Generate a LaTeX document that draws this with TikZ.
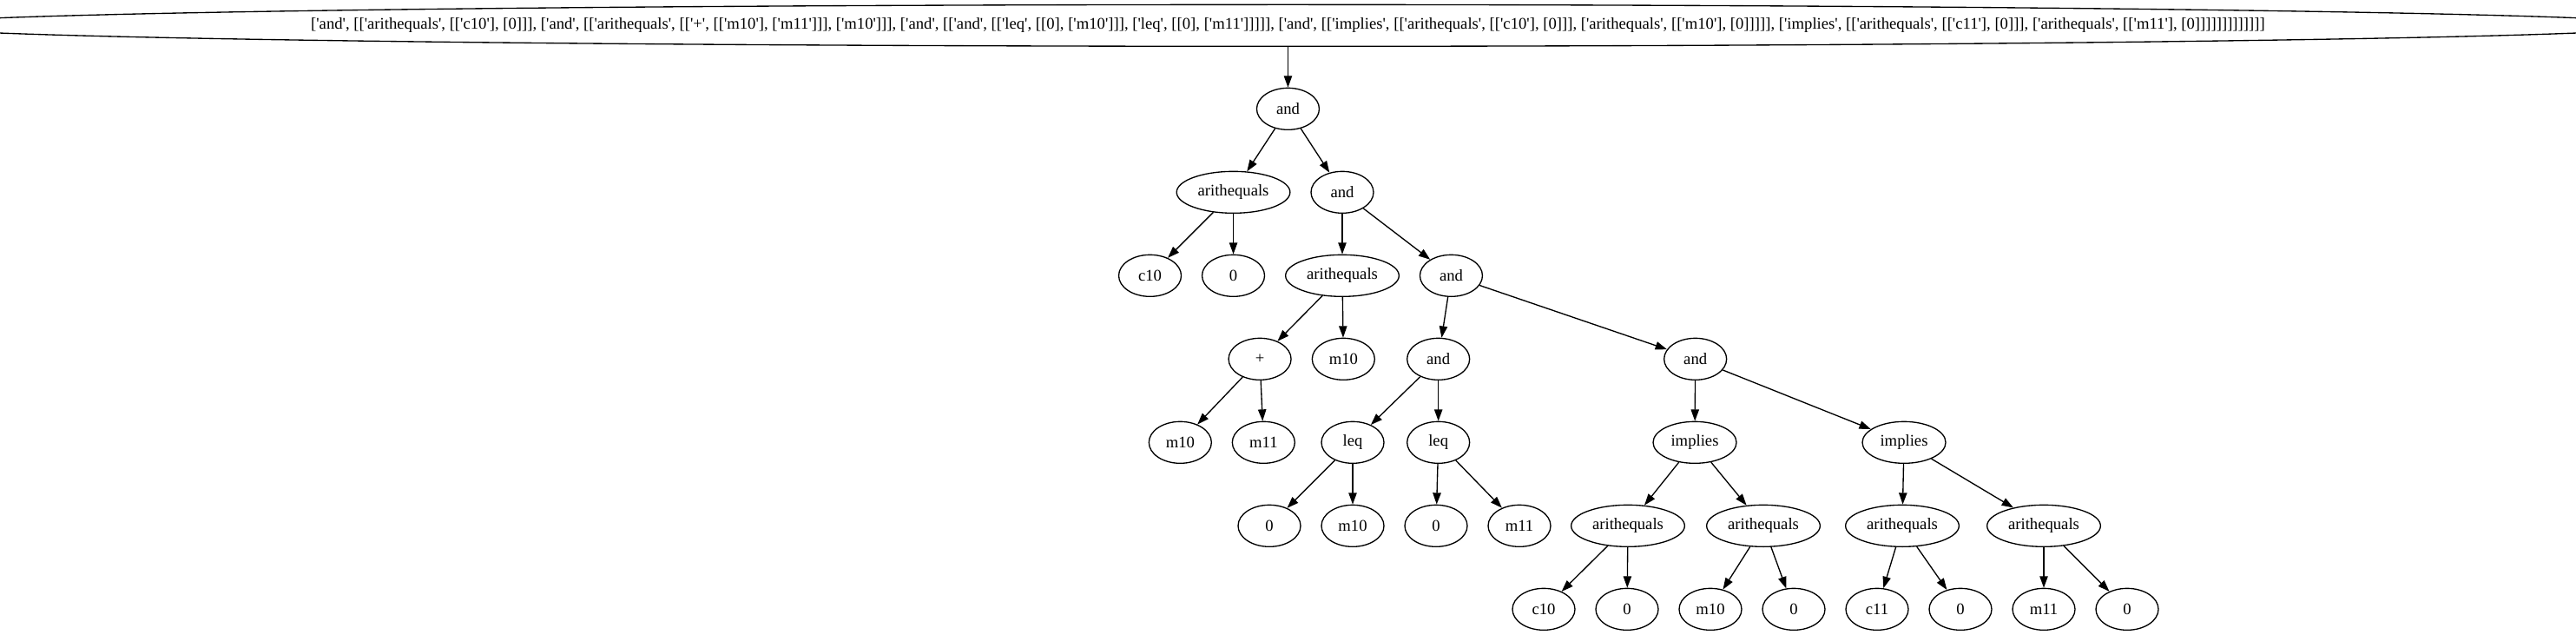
\documentclass[tikz,border=0pt]{standalone}
\usepackage{fontspec}
\setmainfont{Liberation Serif}[Ligatures=TeXOff]
\usetikzlibrary{shapes.geometric,arrows.meta}
\tikzset{
  nd/.style={draw, ellipse, line width=1pt, inner sep=0pt, minimum width=54pt, minimum height=36pt, font=\fontsize{14pt}{16.8pt}\selectfont},
  wide/.style={nd, minimum width=98pt},
  mid/.style={nd, minimum width=72pt},
  edge/.style={line width=1pt, -{Triangle[length=10pt,width=7pt]}}
}
\begin{document}
\begin{tikzpicture}
\useasboundingbox (0pt,0pt) rectangle (2225.25pt,-548.25pt);
% rank 0
\node[nd, minimum width=2217pt] (root) at (1112.6pt,-22pt) {['and', [['arithequals', [['c10'], [0]]], ['and', [['arithequals', [['+', [['m10'], ['m11']]], ['m10']]], ['and', [['and', [['leq', [[0], ['m10']]], ['leq', [[0], ['m11']]]]], ['and', [['implies', [['arithequals', [['c10'], [0]]], ['arithequals', [['m10'], [0]]]]], ['implies', [['arithequals', [['c11'], [0]]], ['arithequals', [['m11'], [0]]]]]]]]]]]]]};
% rank 1
\node[nd] (and1) at (1112.6pt,-94pt) {and};
% rank 2
\node[wide] (ae2) at (1065.4pt,-166pt) {arithequals};
\node[nd] (and2) at (1159.5pt,-166pt) {and};
% rank 3
\node[nd] (c103) at (993.4pt,-238pt) {c10};
\node[nd] (z3) at (1065.4pt,-238pt) {0};
\node[wide] (ae3) at (1159.5pt,-238pt) {arithequals};
\node[nd] (and3) at (1253.6pt,-238pt) {and};
% rank 4
\node[nd] (plus) at (1088.3pt,-310pt) {+};
\node[nd] (m104) at (1160.5pt,-310pt) {m10};
\node[nd] (and4a) at (1242.5pt,-310pt) {and};
\node[nd] (and4b) at (1464.5pt,-310pt) {and};
% rank 5
\node[nd] (m105) at (1019.5pt,-382pt) {m10};
\node[nd] (m115) at (1091.5pt,-382pt) {m11};
\node[nd] (leq1) at (1168.5pt,-382pt) {leq};
\node[nd] (leq2) at (1242.5pt,-382pt) {leq};
\node[mid] (imp1) at (1464pt,-382pt) {implies};
\node[mid] (imp2) at (1644.75pt,-382pt) {implies};
% rank 6
\node[nd] (z6a) at (1096.5pt,-454pt) {0};
\node[nd] (m106) at (1168.5pt,-454pt) {m10};
\node[nd] (z6b) at (1240.5pt,-454pt) {0};
\node[nd] (m116) at (1312.5pt,-454pt) {m11};
\node[wide] (ae6a) at (1406.25pt,-454pt) {arithequals};
\node[wide] (ae6b) at (1523.25pt,-454pt) {arithequals};
\node[wide] (ae6c) at (1643.25pt,-454pt) {arithequals};
\node[wide] (ae6d) at (1765.5pt,-454pt) {arithequals};
% rank 7
\node[nd] (c107) at (1333.5pt,-526pt) {c10};
\node[nd] (z7a) at (1405.5pt,-526pt) {0};
\node[nd] (m107) at (1477.5pt,-526pt) {m10};
\node[nd] (z7b) at (1549.5pt,-526pt) {0};
\node[nd] (c117) at (1621.5pt,-526pt) {c11};
\node[nd] (z7c) at (1693.5pt,-526pt) {0};
\node[nd] (m117) at (1765.5pt,-526pt) {m11};
\node[nd] (z7d) at (1837.5pt,-526pt) {0};
% edges
\draw[edge] (root) -- (and1);
\draw[edge] (and1) -- (ae2);
\draw[edge] (and1) -- (and2);
\draw[edge] (ae2) -- (c103);
\draw[edge] (ae2) -- (z3);
\draw[edge] (and2) -- (ae3);
\draw[edge] (and2) -- (and3);
\draw[edge] (ae3) -- (plus);
\draw[edge] (ae3) -- (m104);
\draw[edge] (and3) -- (and4a);
\draw[edge] (and3) -- (and4b);
\draw[edge] (plus) -- (m105);
\draw[edge] (plus) -- (m115);
\draw[edge] (and4a) -- (leq1);
\draw[edge] (and4a) -- (leq2);
\draw[edge] (and4b) -- (imp1);
\draw[edge] (and4b) -- (imp2);
\draw[edge] (leq1) -- (z6a);
\draw[edge] (leq1) -- (m106);
\draw[edge] (leq2) -- (z6b);
\draw[edge] (leq2) -- (m116);
\draw[edge] (imp1) -- (ae6a);
\draw[edge] (imp1) -- (ae6b);
\draw[edge] (imp2) -- (ae6c);
\draw[edge] (imp2) -- (ae6d);
\draw[edge] (ae6a) -- (c107);
\draw[edge] (ae6a) -- (z7a);
\draw[edge] (ae6b) -- (m107);
\draw[edge] (ae6b) -- (z7b);
\draw[edge] (ae6c) -- (c117);
\draw[edge] (ae6c) -- (z7c);
\draw[edge] (ae6d) -- (m117);
\draw[edge] (ae6d) -- (z7d);
\end{tikzpicture}
\end{document}
